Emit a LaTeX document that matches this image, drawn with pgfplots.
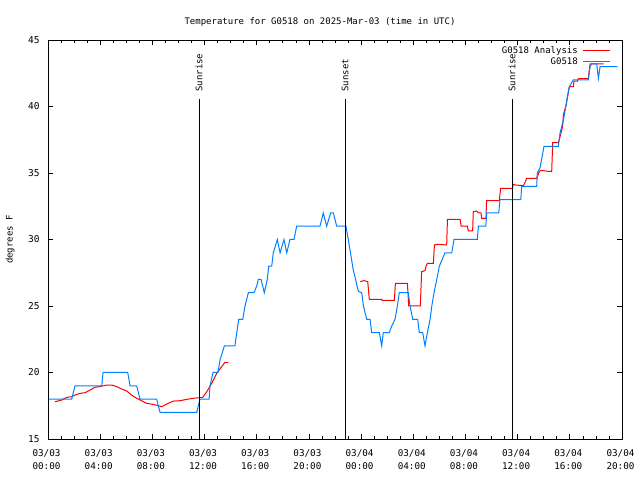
\documentclass[border=0pt]{standalone}
\usepackage{fontspec}
\setmainfont{DejaVu Sans Mono}
\setmonofont{DejaVu Sans Mono}
\usepackage{pgfplots}
\pgfplotsset{compat=1.18}
\definecolor{gblue}{RGB}{0,128,255}
\definecolor{gred}{RGB}{255,0,0}
\begin{document}
\begin{tikzpicture}[font=\fontsize{9bp}{11bp}\selectfont]
\useasboundingbox (0,0) rectangle (640bp,480bp);
\begin{axis}[
 at={(48bp,41bp)}, anchor=south west,
 scale only axis, width=574bp, height=399bp,
 xmin=0, xmax=44, ymin=15, ymax=45,
 xtick={0,4,...,44}, minor xtick={0,1,...,44},
 xticklabels={{03/03\\00:00},{03/03\\04:00},{03/03\\08:00},{03/03\\12:00},{03/03\\16:00},{03/03\\20:00},{03/04\\00:00},{03/04\\04:00},{03/04\\08:00},{03/04\\12:00},{03/04\\16:00},{03/04\\20:00}},
 xticklabel style={align=center, font=\fontsize{9.3bp}{13bp}\selectfont, yshift=-7bp, xshift=-1.5bp},
 yticklabel style={xshift=-5bp, font=\fontsize{9.5bp}{11bp}\selectfont},
 ytick={15,20,...,45},
 tick align=inside,
 major tick length=5bp, minor tick length=3bp,
 tick style={black, line width=0.7bp},
 axis line style={line width=0.7bp},
 ylabel={degrees F},
 ylabel style={at={(axis description cs:-0.066,0.5)}, anchor=center},
 title={Temperature for G0518 on 2025-Mar-03 (time in UTC)},
 title style={yshift=4bp, xshift=-15bp},
 /pgf/number format/assume math mode=true,
 legend style={at={(1,1)}, anchor=north east, xshift=-8bp, yshift=-2bp, draw=none, fill=none, row sep=-1bp, column sep=3bp, font=\fontsize{9bp}{11bp}\selectfont},
 legend cell align=right,
 legend plot pos=right,
 legend image code/.code={\draw[#1] (0bp,0bp) -- (27bp,0bp);},
]
% Analysis (red)
\addplot[gred, line width=1bp] coordinates {
(0.54,17.80) (1.05,17.93) (1.43,18.13) (1.81,18.18) (2.07,18.30) (2.45,18.43) (2.84,18.48) (3.22,18.68) (3.60,18.89) (3.99,18.94) (4.50,19.06) (4.88,19.06) (5.26,18.94) (5.65,18.76) (6.03,18.61) (6.41,18.30) (6.80,18.06) (7.18,17.88) (7.56,17.68) (8.07,17.60) (8.46,17.50) (8.71,17.43) (9.22,17.68) (9.61,17.85) (10.12,17.88) (10.63,17.98) (11.14,18.06) (11.86,18.13) (12.17,18.56) (12.55,19.19) (12.93,19.94) (13.31,20.44) (13.57,20.77) (13.82,20.77)
};
\addlegendentry{G0518 Analysis}
\addplot[gred, line width=1bp, forget plot] coordinates {
(23.92,26.83) (24.22,26.91) (24.51,26.83) (24.63,25.50) (25.58,25.50) (25.60,25.42) (26.55,25.42) (26.63,26.71) (27.55,26.71) (27.65,25.0) (28.54,25.0) (28.64,27.58) (28.90,27.66) (28.97,27.96) (29.08,28.21) (29.54,28.21) (29.62,29.59) (29.84,29.64) (30.56,29.59) (30.62,31.52) (31.59,31.52) (31.67,31.0) (32.14,31.0) (32.22,30.64) (32.55,30.64) (32.60,32.09) (32.86,32.14) (32.99,32.0) (33.19,32.0) (33.24,31.59) (33.57,31.59) (33.62,32.92) (34.59,32.92) (34.70,33.85) (35.61,33.85) (35.66,34.15) (35.80,34.1) (36.44,34.05) (36.57,34.3) (36.69,34.6) (37.46,34.6) (37.66,35.1) (37.77,35.2) (38.61,35.1) (38.69,37.28) (39.12,37.28) (39.25,37.73) (39.45,38.5) (39.51,39.4) (39.72,40.1) (39.89,41.1) (39.97,41.5) (40.27,41.5) (40.32,41.9) (40.58,41.9) (40.66,42.1) (41.42,42.1) (41.55,43.2) (42.6,43.2)
};
% Observation (blue)
\addplot[gblue, line width=1bp] coordinates {
(0.08,18) (1.82,18) (2.07,19) (4.12,19) (4.22,20) (6.11,20) (6.29,19) (6.80,19) (7.05,18) (8.33,18) (8.59,17) (11.40,17) (11.65,18) (12.35,18) (12.42,19) (12.65,20) (13.03,20) (13.2,21) (13.52,22) (14.33,22) (14.47,23) (14.62,24) (14.93,24) (15.10,25) (15.36,26) (15.79,26) (16.0,26.5) (16.12,27) (16.33,27) (16.58,26) (16.81,27) (16.92,28) (17.15,28) (17.27,29) (17.58,30) (17.79,29) (18.09,30) (18.30,29) (18.55,30) (18.86,30) (19.06,31) (20.85,31) (21.10,32) (21.36,31) (21.67,32) (21.87,32) (22.13,31) (22.84,31) (23.02,30) (23.40,27.7) (23.53,27.2) (23.79,26.1) (24.05,26) (24.18,25) (24.43,24) (24.69,24) (24.81,23) (25.40,23) (25.58,22) (25.70,23) (26.16,23) (26.35,23.5) (26.60,24) (26.78,25) (26.93,26) (27.62,26) (27.75,25) (27.96,24) (28.34,24) (28.46,23) (28.72,23) (28.90,22) (29.08,23) (29.29,24) (29.42,25) (29.59,26) (29.80,27) (30.00,28) (30.43,29) (30.95,29) (31.12,30) (32.91,30) (32.99,31) (33.56,31) (33.63,32) (34.55,32) (34.65,33) (36.24,33) (36.31,34) (37.46,34) (37.51,35) (37.72,35.4) (37.85,36.1) (38.02,37) (39.12,37) (39.25,38) (39.51,39) (39.64,39.7) (39.77,40.5) (39.89,41.1) (39.97,41.5) (40.27,42) (41.42,42) (41.55,43) (41.68,43.2) (42.06,43.2) (42.19,42.1) (42.32,43) (43.64,43)
};
\addlegendentry{G0518}
% sunrise / sunset lines
\addplot[black, line width=0.8bp, forget plot] coordinates {(11.58,15) (11.58,40.6)};
\addplot[black, line width=0.8bp, forget plot] coordinates {(22.77,15) (22.77,40.6)};
\addplot[black, line width=0.8bp, forget plot] coordinates {(35.57,15) (35.57,40.6)};
\node[rotate=90, anchor=west, inner sep=0pt] at (axis cs:11.58,41.1) {Sunrise};
\node[rotate=90, anchor=west, inner sep=0pt] at (axis cs:22.77,41.1) {Sunset};
\node[rotate=90, anchor=west, inner sep=0pt] at (axis cs:35.57,41.1) {Sunrise};
\end{axis}
\end{tikzpicture}
\end{document}
